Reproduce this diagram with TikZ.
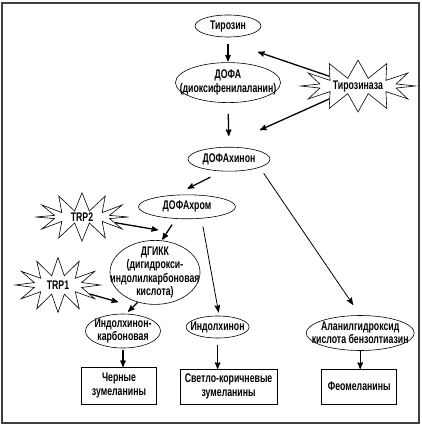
\documentclass[tikz,border=0pt]{standalone}
\usepackage{fontspec}
\setmainfont{Liberation Sans}[FakeStretch=0.7]
\usetikzlibrary{arrows, arrows.meta, positioning, shapes.geometric, shapes.symbols}
\tikzset {
  stage/.style = {draw, ellipse, line width=0.6pt, inner xsep=-30pt, inner ysep=-20pt, align=center, font=\bfseries\fontsize{12.5}{13.5}\selectfont},
  pigment/.style = {draw, rectangle, line width=0.6pt, inner sep=0pt, align=center, font=\bfseries\fontsize{12.5}{13.5}\selectfont},
  enzyme/.style = {draw, starburst, line width=0.6pt, fill=white, starburst points=12, starburst point height=18pt, random starburst=0, inner sep=0pt, align=center, font=\bfseries\fontsize{12.5}{13.5}\selectfont},
  line/.style = {->, line width=1.3pt, color=black, shorten <=0pt, shorten >=0pt, >=stealth'},
  thinline/.style = {-{Stealth[length=8pt, width=6pt, inset=1.5pt]}, line width=0.8pt, color=black},
  frame/.style = {line width=1.6pt, black!75}
}

\begin{document}
\begin{tikzpicture}[x=1pt, y=-1pt]
    \useasboundingbox (0,0) rectangle (422,428);
    \draw[frame] (2,3) rectangle (419,423);

    \node[stage, minimum width=66pt, minimum height=22pt] (tyr) at (228,26) {Тирозин};
    \node[stage, minimum width=105pt, minimum height=40pt, below=25pt of tyr] (dopa) {ДОФА\\(диоксифенилаланин)};
    \node[stage, minimum width=82pt, minimum height=24pt, below=44pt of dopa, xshift=1pt] (quinone) {ДОФАхинон};
    \node[stage, minimum width=97pt, minimum height=24pt, below=23pt of quinone, xshift=-42pt] (chrome) {ДОФАхром};
    \node[stage, minimum width=90pt, minimum height=64pt, below=21pt of chrome, xshift=-32pt] (dgikk) {ДГИКК\\(дигидрокси-\\индолилкарбоновая\\кислота)};
    \node[stage, minimum width=75pt, minimum height=34pt, below=9pt of dgikk, xshift=-32pt] (icarb) {Индолхинон-\\карбоновая};
    \node[stage, minimum width=63pt, minimum height=22pt, right=25pt of icarb, yshift=4pt] (indq) {Индолхинон};
    \node[stage, minimum width=108pt, minimum height=35pt, right=56.5pt of indq, yshift=-6pt] (alan) {Аланилгидроксид\\кислота бензолтиазин};
    \node[pigment, minimum width=75pt, minimum height=37pt, below=18.5pt of icarb, xshift=-4pt] (black) {Черные\\зумеланины};
    \node[pigment, minimum width=97pt, minimum height=35pt, below=30.5pt of indq, xshift=11pt] (brown) {Светло-коричневые\\зумеланины};
    \node[pigment, minimum width=75pt, minimum height=35pt, below=18pt of alan, xshift=-1pt] (pheo) {Феомеланины};

    \node[enzyme, minimum width=115pt, minimum height=46pt] (tyrase) at (358,86) {Тирозиназа};
    \node[enzyme, minimum width=93pt, minimum height=45pt] (trp2) at (82,217) {TRP2};
    \node[enzyme, minimum width=85pt, minimum height=55pt] (trp1) at (58,285) {TRP1};

    \coordinate (stepA) at (258,52);
    \coordinate (stepB) at (260,130);
    \coordinate (trp2hit) at (158,230);
    \coordinate (trp1hit) at (118,302);

    \draw[line, shorten <=7pt, shorten >=1pt] (tyr.south) -- (dopa.north);
    \draw[line, shorten <=11pt, shorten >=11pt] (dopa.south) -- (quinone.north);
    \draw[line] (tyrase) -- (stepA);
    \draw[line] (tyrase) -- (stepB);
    \draw[line, shorten <=13pt, shorten >=14pt] (quinone.240) -- (chrome.135);
    \draw[line, shorten <=7pt, shorten >=1pt] (chrome.227) -- (dgikk.78);
    \draw[line] (trp2) -- (trp2hit);
    \draw[thinline, shorten <=8pt, shorten >=3pt] (chrome.321) -- (indq.82);
    \draw[thinline, shorten <=7pt, shorten >=12pt] (quinone.345) -- (alan.north);
    \draw[line] (trp1) -- (trp1hit);
    \draw[line, shorten >=3pt] (dgikk.240) -- (icarb.80);
    \draw[line, shorten <=2pt] (icarb.south) -- (icarb.south |- black.north);
    \draw[line, shorten <=7pt] (indq.south) -- (indq.south |- brown.north);
    \draw[line] (alan.south) -- (alan.south |- pheo.north);

\end{tikzpicture}
\end{document}
